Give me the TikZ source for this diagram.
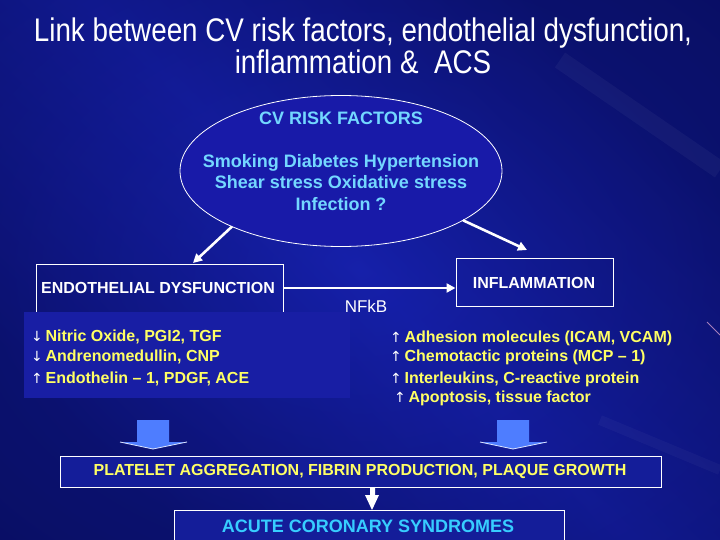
\documentclass[tikz,border=0pt]{standalone}
\usepackage{fontspec}
\setmainfont{Liberation Sans}
\newfontfamily\titlefont[FakeStretch=0.85]{Liberation Sans}
\newfontfamily\arrfont{DejaVu Sans}
\usetikzlibrary{arrows.meta,shapes.geometric}
\definecolor{bgdark}{RGB}{6,10,80}
\definecolor{bgmid}{RGB}{22,32,170}
\definecolor{panelblue}{RGB}{24,30,164}
\definecolor{ellblue}{RGB}{24,26,168}
\definecolor{ytext}{RGB}{255,255,100}
\definecolor{ctext}{RGB}{115,215,255}
\definecolor{acstext}{RGB}{55,205,255}
\definecolor{blockblue}{RGB}{78,125,255}
\tikzset{
  wline/.style={draw=white, line width=1pt},
  thickarrow/.style={white, line width=2.6pt, -{Triangle[length=9pt,width=9pt]}},
  ytxt/.style={text=ytext, font=\fontsize{16}{18}\selectfont\bfseries, anchor=west, inner sep=0pt},
  wbold/.style={text=white, font=\fontsize{16}{18}\selectfont\bfseries},
}
\newcommand{\dn}{{\color{white}\arrfont\mdseries\fontsize{14}{16}\selectfont ↓}\,}
\newcommand{\up}{{\color{white}\arrfont\mdseries\fontsize{14}{16}\selectfont ↑}\,}
\begin{document}
\begin{tikzpicture}[x=1pt,y=-1pt]
\useasboundingbox (0,0) rectangle (720,540);
% background
\shade[inner color=bgmid, outer color=bgdark] (-200,-150) rectangle (920,690);
\fill[bgmid, opacity=0.35] (0,0) rectangle (720,540);
\shade[left color=bgdark, right color=bgdark, middle color=bgmid, shading angle=135, opacity=0.4] (0,0) rectangle (720,540);
% faint streaks
\draw[white, opacity=0.04, line width=18pt] (560,60) -- (720,170);
\draw[white, opacity=0.03, line width=10pt] (600,420) -- (720,470);
\draw[violet!40!white, opacity=0.8, line width=0.8pt] (707,322) -- (720,335);

% title
\node[text=white, font=\titlefont\fontsize{32.7}{32}\selectfont, align=center] (title) at (363,46)
  {Link between CV risk factors, endothelial dysfunction,\\inflammation \&\ \ ACS};

% risk factors ellipse
\node[ellipse, draw=white, line width=0.8pt, fill=ellblue, inner sep=0pt, outer sep=0pt, minimum width=322pt, minimum height=151pt] (rf) at (341,171) {};
\node[text=ctext, font=\fontsize{18}{21.5}\selectfont\bfseries, align=center] (rftext) at (341,161)
  {CV RISK FACTORS\\[21.5pt]Smoking Diabetes Hypertension\\Shear stress Oxidative stress\\Infection ?};

% endothelial dysfunction box
\draw[wline] (36,330) -- (36,264) -- (283,264) -- (283,330);
\node[wbold] (endo) at (158,288) {ENDOTHELIAL DYSFUNCTION};
\coordinate (endoE) at (283,288);
\coordinate (endoTop) at (193,263);
\fill[panelblue] (24,312) rectangle (350,398);
\node[ytxt] (l1) at (31,337) {\dn Nitric Oxide, PGI2, TGF};
\node[ytxt] (l2) at (31,357) {\dn Andrenomedullin, CNP};
\node[ytxt] (l3) at (31,379) {\up Endothelin -- 1, PDGF, ACE};

% inflammation box
\node[draw=white, line width=1pt, minimum width=157pt, minimum height=48pt] (infl) at (534.5,282) {};
\node[wbold] (infltext) at (534,283) {INFLAMMATION};
\node[text=white, font=\fontsize{17}{18}\selectfont] (nfkb) at (366,306) {NFkB};
\node[ytxt] (r1) at (390,338) {\up Adhesion molecules (ICAM, VCAM)};
\node[ytxt] (r2) at (390,357) {\up Chemotactic proteins (MCP -- 1)};
\node[ytxt] (r3) at (390,379) {\up Interleukins, C-reactive protein};
\node[ytxt] (r4) at (394,398) {\up Apoptosis, tissue factor};

% connectors
\coordinate (inflTop) at (527,250);
\draw[thickarrow] (rf.207) -- (endoTop);
\draw[thickarrow] (rf.-22) -- (inflTop);
\draw[thickarrow] (endoE) -- (endoE -| infl.west);

% block arrows
\fill[blockblue] (137,420) -- (169,420) -- (169,442) -- (187,442) -- (153,449) -- (120,442) -- (137,442) -- cycle;
\fill[blockblue] (497,420) -- (529,420) -- (529,442) -- (547,442) -- (513,449) -- (480,442) -- (497,442) -- cycle;
\draw[white!80!blockblue, line width=0.8pt] (120,442) -- (153,449) -- (187,442);
\draw[white!80!blockblue, line width=0.8pt] (480,442) -- (513,449) -- (547,442);

% platelet box
\node[draw=white, line width=1pt, fill=bgmid!90!black, minimum width=601pt, minimum height=31pt] (plt) at (360.5,471.5) {};
\node[text=ytext, font=\fontsize{16}{18}\selectfont\bfseries] (plttext) at (360,471) {PLATELET AGGREGATION, FIBRIN PRODUCTION, PLAQUE GROWTH};

% ACS box
\draw[wline, fill=bgmid!90!black] (174,560) -- (174,510) -- (564,510) -- (564,560);
\node[text=acstext, font=\fontsize{18}{20}\selectfont\bfseries] (acs) at (368,526) {ACUTE CORONARY SYNDROMES};
\coordinate (acsTop) at (372,510);
\fill[white] (370,487) -- (375,487) -- (375,495) -- (379,495) -- (acsTop) -- (365,495) -- (370,495) -- cycle;
\end{tikzpicture}
\end{document}
